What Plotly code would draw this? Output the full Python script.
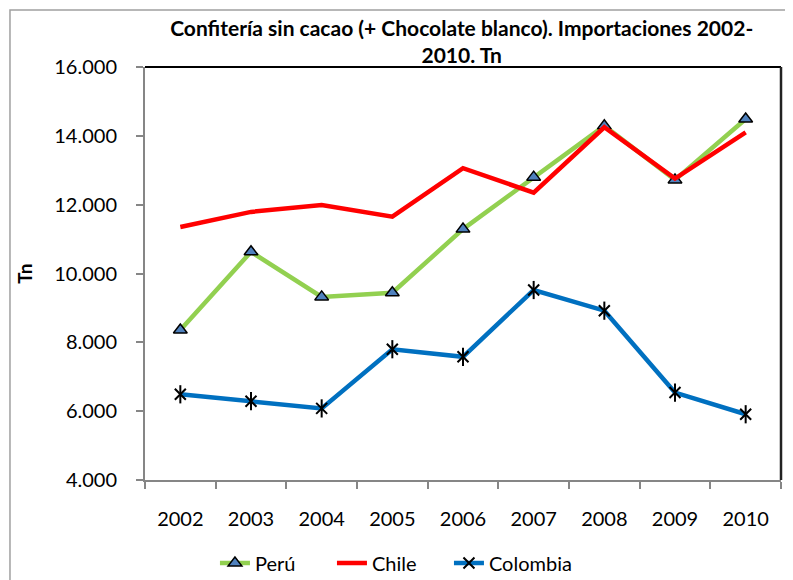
import plotly.graph_objects as go

years = ["2002", "2003", "2004", "2005", "2006", "2007", "2008", "2009", "2010"]
peru = [8360, 10630, 9320, 9440, 11290, 12800, 14290, 12720, 14490]
chile = [11350, 11790, 11990, 11650, 13060, 12350, 14250, 12760, 14100]
colombia = [6490, 6290, 6080, 7800, 7580, 9520, 8920, 6540, 5910]

y_ticks = [4000, 6000, 8000, 10000, 12000, 14000, 16000]
y_tick_labels = ["4.000", "6.000", "8.000", "10.000", "12.000", "14.000", "16.000"]

FONT = "Lato, 'Open Sans', sans-serif"
GREY = "#868686"

fig = go.Figure()

fig.add_trace(go.Scatter(
    x=years, y=peru, name="Perú", mode="lines+markers", legendwidth=72,
    line=dict(color="#92D050", width=4.5),
    marker=dict(symbol="triangle-up", size=12, color="#4F81BD",
                line=dict(color="black", width=1.5)),
))
fig.add_trace(go.Scatter(
    x=years, y=chile, name="Chile", mode="lines", legendwidth=72,
    line=dict(color="#FF0000", width=4.5),
))
fig.add_trace(go.Scatter(
    x=years, y=colombia, name="Colombia", mode="lines+markers",
    line=dict(color="#0070C0", width=4.5),
    marker=dict(symbol="x-thin-open", size=11, color="black",
                line=dict(color="black", width=2)),
))
# vertical stroke of the Excel star marker
fig.add_trace(go.Scatter(
    x=years, y=colombia, mode="markers", showlegend=False, hoverinfo="skip",
    marker=dict(symbol="line-ns-open", size=13, color="black",
                line=dict(color="black", width=2)),
))

# the page body adds an 8px margin, so the figure is drawn 8px smaller
fig.update_layout(
    width=785,
    height=572,
    margin=dict(l=137, r=12, t=59, b=100, autoexpand=False),
    paper_bgcolor="white",
    plot_bgcolor="white",
    font=dict(family=FONT, color="black"),
    title=dict(
        text="<b>Confitería sin cacao (+ Chocolate blanco). Importaciones 2002-<br>2010. Tn</b>",
        x=0.498, xref="paper", xanchor="center",
        y=1 - 28 / 572, yref="container", yanchor="top",
        font=dict(size=21, family=FONT),
    ),
    xaxis=dict(
        type="category",
        showline=True, linecolor=GREY, linewidth=2,
        ticks="outside", tickson="boundaries", ticklen=7, tickcolor=GREY, tickwidth=2,
        tickfont=dict(size=20),
        ticklabelstandoff=20,
        showgrid=False, zeroline=False,
        range=[-0.5, 8.5],
    ),
    yaxis=dict(
        range=[4000, 16000],
        tickvals=y_ticks, ticktext=y_tick_labels,
        showline=True, linecolor=GREY, linewidth=2,
        ticks="outside", ticklen=7, tickcolor=GREY, tickwidth=2,
        tickfont=dict(size=20),
        ticklabelstandoff=15,
        showgrid=False, zeroline=False,
    ),
    legend=dict(
        orientation="h", x=0.11, xanchor="left",
        y=17 / 572, yref="container", yanchor="middle",
        font=dict(size=20), traceorder="normal",
    ),
    annotations=[dict(
        text="<b>Tn</b>", textangle=-90, showarrow=False,
        xref="paper", yref="paper", x=-0.19, y=0.5,
        xanchor="center", yanchor="middle", font=dict(size=19),
    )],
    shapes=[
        # outer chart border
        dict(type="rect", xref="paper", yref="paper", x0=-0.2123, y0=-0.6,
             x1=1.2, y1=1.138, line=dict(color="#A0A0A0", width=1.5), layer="below"),
        # plot area top and right edges
        dict(type="line", xref="paper", yref="paper", x0=0, y0=1, x1=1, y1=1,
             line=dict(color="black", width=2)),
        dict(type="line", xref="paper", yref="paper", x0=1, y0=0, x1=1, y1=1,
             line=dict(color="#222222", width=2.5)),
    ],
)

fig.write_html("out.html")
